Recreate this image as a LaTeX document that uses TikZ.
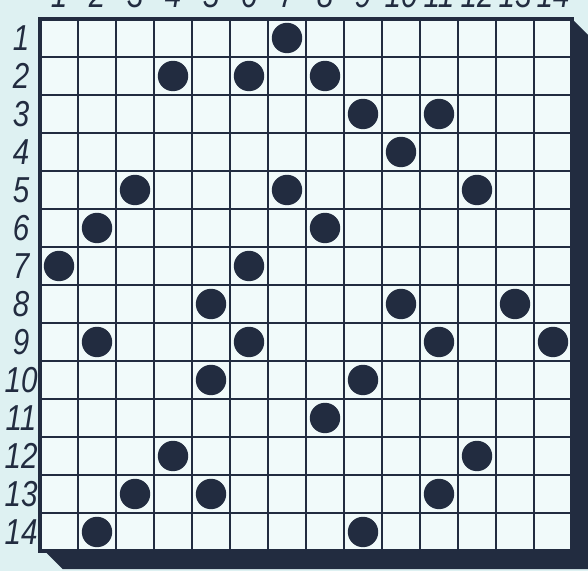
\documentclass[tikz,border=0pt]{standalone}
\usepackage{fontspec}
\newfontfamily\labfont[FakeStretch=0.82]{Liberation Sans}
\definecolor{paper}{RGB}{222,241,242}
\definecolor{cellfill}{RGB}{241,250,250}
\definecolor{ink}{RGB}{34,44,64}

\begin{document}
\begin{tikzpicture}[
    gridline/.style={ink, line width=2.2pt},
    frame/.style={ink, line width=2.8pt, line join=miter},
    shadow/.style={fill=ink},
    dot/.style={circle, fill=ink, inner sep=0pt, minimum size=0.8cm},
    rowlab/.style={font=\labfont\itshape\fontsize{27}{27}\selectfont,
      text=ink, inner sep=0pt},
    collab/.style={rowlab, anchor=base}
  ]
  % page and margins
  \fill[paper] (-1.053,-0.526) rectangle (14.421,14.5);
  \useasboundingbox (-1.053,-0.526) rectangle (14.421,14.5);

  % drop shadow
  \fill[shadow] (0.12,0) -- (14,0) -- (14,14) -- (14.45,13.55)
    -- (14.45,-0.48) -- (0.6,-0.48) -- cycle;

  % board
  \fill[cellfill] (0,0) rectangle (14,14);
  \draw[gridline] (0,0) grid (14,14);
  \draw[frame] (0,0) rectangle (14,14);

  % labels
  \foreach \n in {1,...,14} {
    \node[collab] (col\n) at (\n-0.5,14.29) {\n};
    \node[rowlab] (row\n) at (-0.5,14.5-\n) {\n};
  }

  % counters (row/column)
  \foreach \r/\c in {1/7, 2/4, 2/6, 2/8, 3/9, 3/11, 4/10,
      5/3, 5/7, 5/12, 6/2, 6/8, 7/1, 7/6, 8/5, 8/10, 8/13,
      9/2, 9/6, 9/11, 9/14, 10/5, 10/9, 11/8, 12/4, 12/12,
      13/3, 13/5, 13/11, 14/2, 14/9}
    \node[dot] (d\r-\c) at (\c-0.5,14.5-\r) {};
\end{tikzpicture}
\end{document}
